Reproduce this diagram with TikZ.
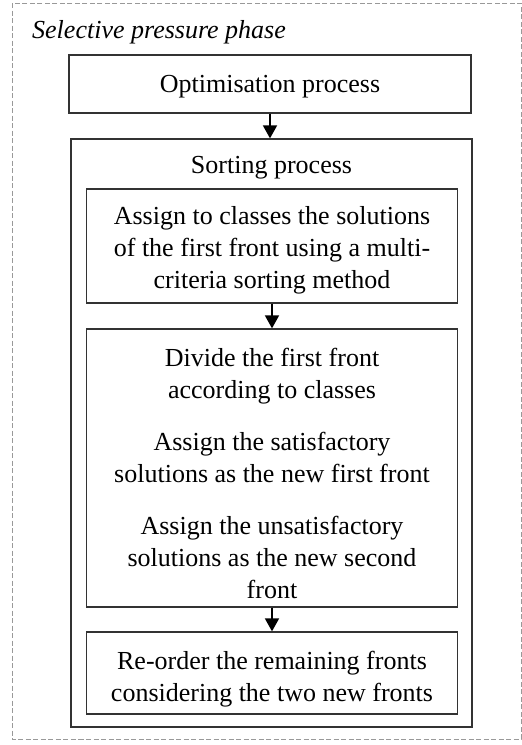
\documentclass[tikz,border=0pt]{standalone}
\usepackage{fontspec}
\setmainfont{Liberation Serif}
\usetikzlibrary{arrows.meta}
\begin{document}
\begin{tikzpicture}[x=1pt,y=1pt,
  font=\fontsize{26}{32}\selectfont,
  box/.style={draw=black!80,line width=1.3pt,inner sep=0pt},
  txt/.style={align=center,inner sep=0pt},
  flow/.style={-{Triangle[length=13pt,width=14pt]},line width=1.8pt,draw=black,fill=black}]
  \useasboundingbox (0,0) rectangle (522,-745);
  % outer phase frame
  \draw[gray!80,line width=1pt,dash pattern=on 5pt off 2.5pt] (12,-3) rectangle (521,-739);
  \node[anchor=base west,inner sep=0pt,font=\fontsize{26}{32}\selectfont\itshape] (title) at (32,-38) {Selective pressure phase};
  % optimisation step
  \node[box,minimum width=402pt,minimum height=58pt] (opt) at (270,-84) {};
  \node[txt] (optt) at ([yshift=-3pt]opt.center) {Optimisation process};
  % sorting step with its sub-steps
  \node[box,minimum width=401pt,minimum height=588pt] (sort) at (271.5,-433) {};
  \node[anchor=base,inner sep=0pt] (sortlbl) at (271.5,-173) {Sorting process};
  \node[box,minimum width=371pt,minimum height=114pt] (s1) at (272,-246) {};
  \node[txt] (s1t) at ([yshift=-4pt]s1.center)
    {Assign to classes the solutions\\of the first front using a multi-\\criteria sorting method};
  \node[box,minimum width=371pt,minimum height=278pt] (s2) at (272,-468) {};
  \node[txt] (s2t) at ([yshift=-5pt]s2.center)
    {Divide the first front\\according to classes\\[20pt]Assign the satisfactory\\solutions as the new first front\\[20pt]Assign the unsatisfactory\\solutions as the new second\\front};
  \node[box,minimum width=371pt,minimum height=82pt] (s3) at (272,-673) {};
  \node[txt] (s3t) at ([yshift=-6pt]s3.center)
    {Re-order the remaining fronts\\considering the two new fronts};
  % connectors
  \draw[flow] (opt.south) -- (opt.south |- sort.north);
  \draw[flow] (s1.south) -- (s2.north);
  \draw[flow] (s2.south) -- (s3.north);
\end{tikzpicture}
\end{document}
